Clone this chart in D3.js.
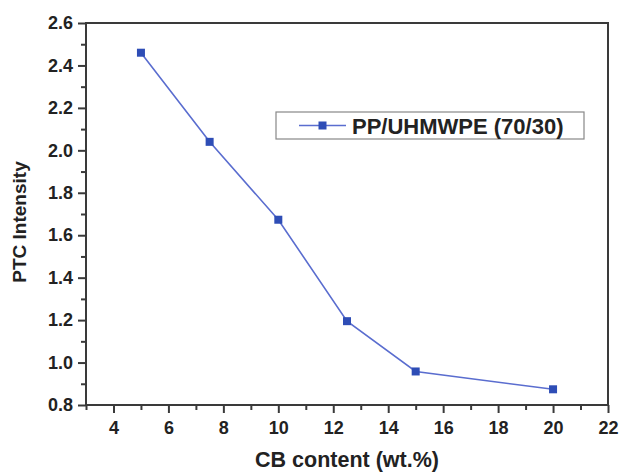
<!DOCTYPE html>
<html>
<head>
<meta charset="utf-8">
<script src="https://cdn.jsdelivr.net/npm/d3@7"></script>
<style>
  body { margin: 0; background: #fff; }
  text { font-family: Arial, "Liberation Sans", sans-serif; font-weight: bold; fill: #222; }
</style>
</head>
<body>
<div class="container"></div>
<script>
const WIDTH = 622;
const HEIGHT = 474;
const LEFT = 86, RIGHT = 608, TOP = 23, BOTTOM = 405;

// data
const cbContent = [5, 7.5, 10, 12.5, 15, 20];
const ptcIntensity = [2.46, 2.04, 1.673, 1.195, 0.958, 0.874];
const seriesName = "PP/UHMWPE (70/30)";
const xTicks = [4, 6, 8, 10, 12, 14, 16, 18, 20, 22];
const yTicks = [0.8, 1.0, 1.2, 1.4, 1.6, 1.8, 2.0, 2.2, 2.4, 2.6];

const LINE_COLOR = "#5a6dcf";
const MARK_COLOR = "#2e4db6";
const AXIS_COLOR = "#3a3a3a";

var xScale = d3.scaleLinear().domain([3, 22]).range([LEFT, RIGHT]);
var yScale = d3.scaleLinear().domain([0.8, 2.6]).range([BOTTOM, TOP]);

var svg = d3.select('.container').append('svg')
    .attr('width', WIDTH)
    .attr('height', HEIGHT);

var translate = function(x, y){
    return "translate(" + x + "," + y + ")";
};

// minor ticks
var xMinor = d3.range(3, 22, 1).filter(function(v){ return v % 2 === 1; });
var yMinor = d3.range(0.9, 2.6, 0.2);

var minorX = svg.append('g')
    .attr('transform', translate(0, BOTTOM))
    .call(d3.axisBottom(xScale).tickValues(xMinor).tickSize(5).tickFormat(''));
var minorY = svg.append('g')
    .attr('transform', translate(LEFT, 0))
    .call(d3.axisLeft(yScale).tickValues(yMinor).tickSize(5).tickFormat(''));

var xAxis = svg.append('g')
    .attr('transform', translate(0, BOTTOM))
    .call(d3.axisBottom(xScale).tickValues(xTicks).tickSize(8).tickPadding(8)
        .tickFormat(d3.format('d')));
var yAxis = svg.append('g')
    .attr('transform', translate(LEFT, 0))
    .call(d3.axisLeft(yScale).tickValues(yTicks).tickSize(8).tickPadding(5)
        .tickFormat(d3.format('.1f')));

[minorX, minorY, xAxis, yAxis].forEach(function(g){
    g.selectAll('.domain').remove();
    g.selectAll('line').attr('stroke', AXIS_COLOR).attr('stroke-width', 2);
    g.selectAll('text').style('font-size', '18px').attr('fill', '#222');
});

// frame
svg.append('rect')
    .attr('x', LEFT).attr('y', TOP)
    .attr('width', RIGHT - LEFT).attr('height', BOTTOM - TOP)
    .attr('fill', 'none')
    .attr('stroke', AXIS_COLOR)
    .attr('stroke-width', 2);

var points = cbContent.map(function(x, i){ return {x: x, y: ptcIntensity[i]}; });

var line = d3.line()
    .x(function(d){ return xScale(d.x); })
    .y(function(d){ return yScale(d.y); });

svg.append('path')
    .datum(points)
    .attr('d', line)
    .attr('fill', 'none')
    .attr('stroke', LINE_COLOR)
    .attr('stroke-width', 1.6);

svg.append('g').selectAll('rect')
    .data(points)
    .enter()
    .append('rect')
    .attr('x', function(d){ return xScale(d.x) - 4; })
    .attr('y', function(d){ return yScale(d.y) - 4; })
    .attr('width', 8)
    .attr('height', 8)
    .attr('fill', MARK_COLOR);

// legend
var legend = svg.append('g').attr('transform', translate(276, 112));
legend.append('rect')
    .attr('width', 308).attr('height', 27)
    .attr('fill', '#fff')
    .attr('stroke', '#888')
    .attr('stroke-width', 1.2);
legend.append('line')
    .attr('x1', 23).attr('x2', 70)
    .attr('y1', 13.5).attr('y2', 13.5)
    .attr('stroke', LINE_COLOR).attr('stroke-width', 1.6);
legend.append('rect')
    .attr('x', 42.5).attr('y', 9.5).attr('width', 8).attr('height', 8)
    .attr('fill', MARK_COLOR);
legend.append('text')
    .attr('x', 76).attr('y', 21.5)
    .style('font-size', '22px')
    .text(seriesName);

// axis titles
svg.append('text')
    .attr('x', 347).attr('y', 467)
    .attr('text-anchor', 'middle')
    .style('font-size', '21.5px')
    .text('CB content (wt.%)');

svg.append('text')
    .attr('transform', translate(26, 222) + ' rotate(-90)')
    .attr('text-anchor', 'middle')
    .style('font-size', '19px')
    .text('PTC Intensity');
</script>
</body>
</html>
